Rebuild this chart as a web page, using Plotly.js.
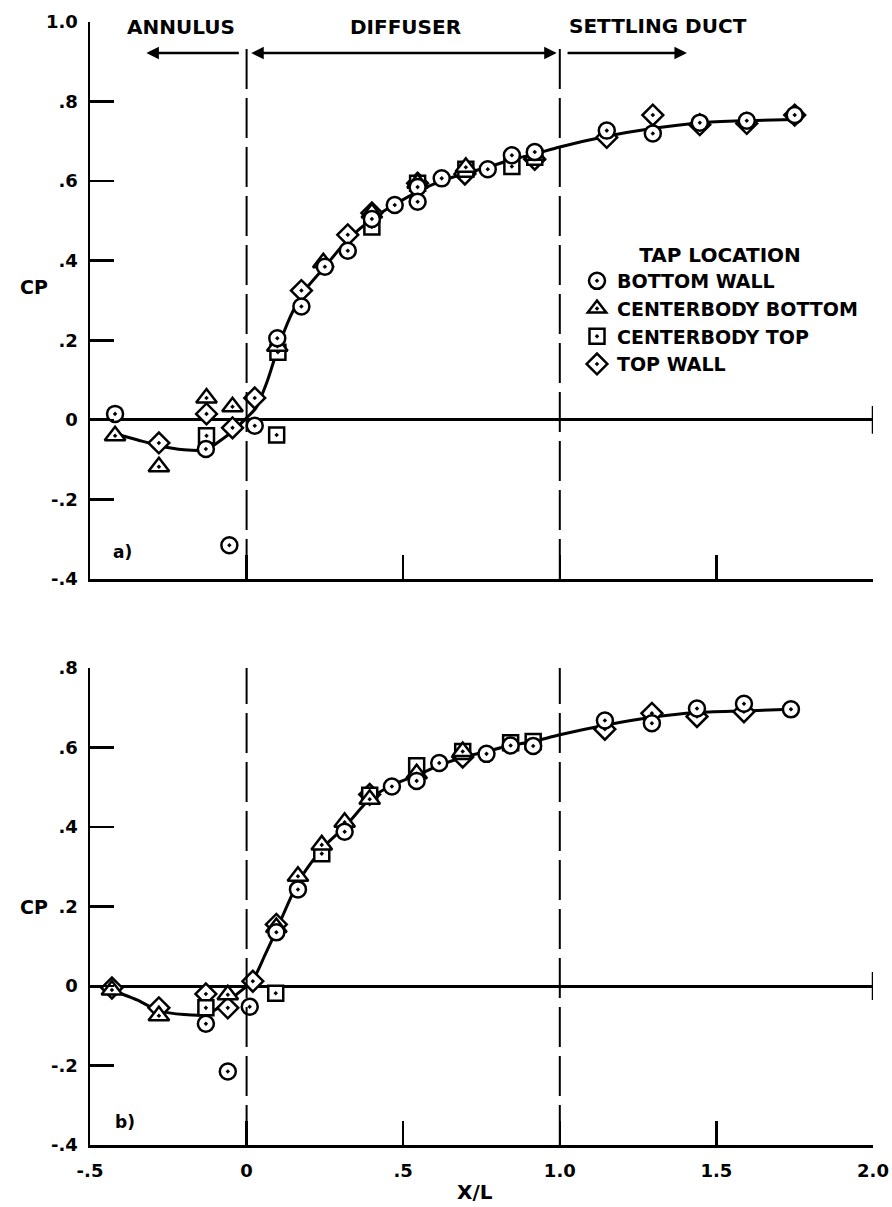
<!DOCTYPE html>
<html>
<head>
<meta charset="utf-8">
<script src="https://cdn.plot.ly/plotly-3.0.1.min.js"></script>
<style>html,body{margin:0;padding:0;background:#fff;}#chart{width:892px;height:1207px;}</style>
</head>
<body>
<div id="chart"></div>
<script>
// ---------- DATA ----------
// Panel a)
const aCurveX = [-0.42,-0.35,-0.28,-0.2,-0.13,-0.08,-0.04,0,0.03,0.065,0.1,0.14,0.18,0.25,0.32,0.4,0.47,0.55,0.62,0.7,0.77,0.85,0.92,1.0,1.15,1.3,1.45,1.6,1.75];
const aCurveY = [-0.035,-0.05,-0.065,-0.075,-0.075,-0.05,-0.025,0.005,0.03,0.095,0.18,0.26,0.32,0.385,0.45,0.505,0.54,0.575,0.6,0.62,0.635,0.655,0.668,0.686,0.713,0.733,0.747,0.752,0.755];

const aBottomWallX = [-0.42,-0.13,-0.055,0.026,0.098,0.175,0.25,0.323,0.40,0.473,0.546,0.546,0.623,0.77,0.847,0.92,1.15,1.297,1.447,1.597,1.75];
const aBottomWallY = [0.015,-0.073,-0.315,-0.015,0.205,0.285,0.385,0.425,0.505,0.54,0.585,0.548,0.607,0.63,0.665,0.673,0.727,0.72,0.747,0.752,0.766];

const aCbBottomX = [-0.42,-0.28,-0.128,-0.045,0.098,0.245,0.40,0.546,0.70,0.92];
const aCbBottomY = [-0.04,-0.118,0.055,0.033,0.185,0.395,0.52,0.595,0.635,0.665];

const aCbTopX = [-0.128,0.096,0.1,0.40,0.546,0.70,0.847,0.92];
const aCbTopY = [-0.04,-0.038,0.17,0.485,0.595,0.63,0.637,0.66];

const aTopWallX = [-0.28,-0.128,-0.045,0.026,0.175,0.323,0.40,0.546,0.697,0.92,1.15,1.297,1.447,1.597,1.75];
const aTopWallY = [-0.058,0.015,-0.02,0.055,0.325,0.465,0.52,0.595,0.618,0.655,0.71,0.766,0.742,0.745,0.766];

// Panel b)
const bCurveX = [-0.43,-0.35,-0.28,-0.2,-0.13,-0.08,-0.03,0.02,0.06,0.095,0.164,0.24,0.313,0.393,0.464,0.543,0.615,0.69,0.766,0.843,0.915,1.0,1.144,1.294,1.438,1.588,1.738];
const bCurveY = [-0.01,-0.035,-0.062,-0.072,-0.072,-0.05,-0.02,0.015,0.08,0.14,0.26,0.345,0.4,0.47,0.505,0.53,0.555,0.575,0.59,0.605,0.615,0.632,0.656,0.676,0.688,0.692,0.696];

const bBottomWallX = [-0.13,-0.06,0.01,0.095,0.164,0.313,0.464,0.543,0.615,0.766,0.843,0.915,1.144,1.294,1.438,1.588,1.738];
const bBottomWallY = [-0.095,-0.215,-0.052,0.135,0.243,0.388,0.502,0.516,0.561,0.584,0.605,0.604,0.668,0.661,0.698,0.71,0.696];

const bCbBottomX = [-0.43,-0.28,-0.06,0.095,0.164,0.24,0.313,0.393,0.543,0.69];
const bCbBottomY = [-0.01,-0.075,-0.022,0.147,0.276,0.355,0.412,0.47,0.534,0.59];

const bCbTopX = [-0.13,0.093,0.24,0.393,0.543,0.69,0.843,0.915];
const bCbTopY = [-0.055,-0.018,0.333,0.48,0.554,0.59,0.612,0.615];

const bTopWallX = [-0.43,-0.28,-0.13,-0.06,0.02,0.095,0.393,0.69,1.144,1.294,1.438,1.588];
const bTopWallY = [-0.005,-0.055,-0.02,-0.055,0.012,0.155,0.482,0.576,0.646,0.686,0.678,0.69];

// Labels / ticks
const seriesNames = ['BOTTOM WALL','CENTERBODY BOTTOM','CENTERBODY TOP','TOP WALL'];
const seriesSymbols = ['circle-dot','triangle-up-dot','square-dot','diamond-dot'];
const xTickVals = [-0.5,0,0.5,1.0,1.5,2.0];
const xTickText = ['-.5','0','.5','1.0','1.5','2.0'];
const yTickValsA = [-0.4,-0.2,0,0.2,0.4,0.6,0.8,1.0];
const yTickTextA = ['-.4','-.2','0','.2','.4','.6','.8','1.0'];
const yTickValsB = [-0.4,-0.2,0,0.2,0.4,0.6,0.8];
const yTickTextB = ['-.4','-.2','0','.2','.4','.6','.8'];
const regionBounds = [0, 1.0];           // annulus/diffuser and diffuser/settling-duct boundaries (X/L)
const regionNames = ['ANNULUS','DIFFUSER','SETTLING DUCT'];
const xMin = -0.5, xMax = 2.0;

// ---------- LAYOUT HELPERS ----------
const W = 892, H = 1207;
const px = v => v / W;
const py = v => 1 - v / H;
const FAM = 'DejaVu Sans';
const txtFont = {family: FAM, size: 20, color: '#000', weight: 'bold'};
const legFont = {family: FAM, size: 19, color: '#000', weight: 'bold'};
const legTitleFont = {family: FAM, size: 20, color: '#000', weight: 'bold'};
const tickFont = {family: FAM, size: 18, color: '#000', weight: 'bold'};
const markerSizes = [16, 18, 15, 16];

const aSets = [[aBottomWallX,aBottomWallY],[aCbBottomX,aCbBottomY],[aCbTopX,aCbTopY],[aTopWallX,aTopWallY]];
const bSets = [[bBottomWallX,bBottomWallY],[bCbBottomX,bCbBottomY],[bCbTopX,bCbTopY],[bTopWallX,bTopWallY]];

const traces = [];
traces.push({x: aCurveX, y: aCurveY, xaxis: 'x', yaxis: 'y', mode: 'lines', showlegend: false, hoverinfo: 'skip',
  line: {color: '#000', width: 3, shape: 'spline', smoothing: 0.7}});
traces.push({x: bCurveX, y: bCurveY, xaxis: 'x2', yaxis: 'y2', mode: 'lines', showlegend: false, hoverinfo: 'skip',
  line: {color: '#000', width: 3, shape: 'spline', smoothing: 0.7}});
const order = [3, 2, 1, 0];
order.forEach(i => {
  traces.push({x: aSets[i][0], y: aSets[i][1], xaxis: 'x', yaxis: 'y', mode: 'markers', name: seriesNames[i],
    legendgroup: 'g' + i, legendrank: i + 1, showlegend: true,
    marker: {symbol: seriesSymbols[i], size: markerSizes[i], color: '#fff', line: {color: '#000', width: 2.5}}});
  traces.push({x: bSets[i][0], y: bSets[i][1], xaxis: 'x2', yaxis: 'y2', mode: 'markers', name: seriesNames[i],
    legendgroup: 'g' + i, showlegend: false,
    marker: {symbol: seriesSymbols[i], size: markerSizes[i], color: '#fff', line: {color: '#000', width: 2.5}}});
});

const xDomain = [px(90), px(873)];
const axisCommon = {
  showgrid: false, showline: true, linecolor: '#000', linewidth: 2.5, mirror: false,
  ticks: 'inside', ticklen: 24, tickwidth: 2.5, tickcolor: '#000', tickfont: tickFont, fixedrange: true
};
const layout = {
  width: W, height: H,
  margin: {l: 0, r: 0, t: 0, b: 0, pad: 0},
  paper_bgcolor: '#fff', plot_bgcolor: 'rgba(0,0,0,0)',
  showlegend: true,
  legend: {x: px(577), y: py(236), xanchor: 'left', yanchor: 'top', bgcolor: 'rgba(0,0,0,0)',
    font: legFont, tracegroupgap: 0, itemwidth: 30, traceorder: 'normal',
    title: {text: 'TAP LOCATION', side: 'top center', font: legTitleFont}},
  xaxis: Object.assign({}, axisCommon, {domain: xDomain, range: [xMin, xMax], anchor: 'y',
    tickvals: xTickVals, showticklabels: false, zeroline: false}),
  yaxis: Object.assign({}, axisCommon, {domain: [py(579), py(22)], range: [-0.4, 1.0], anchor: 'x',
    tickvals: yTickValsA, ticktext: yTickTextA, ticklabelstandoff: 6,
    zeroline: true, zerolinecolor: '#000', zerolinewidth: 3}),
  xaxis2: Object.assign({}, axisCommon, {domain: xDomain, range: [xMin, xMax], anchor: 'y2',
    tickvals: xTickVals, ticktext: xTickText, ticklabelstandoff: 8, zeroline: false}),
  yaxis2: Object.assign({}, axisCommon, {domain: [py(1145), py(668)], range: [-0.4, 0.8], anchor: 'x2',
    tickvals: yTickValsB, ticktext: yTickTextB, ticklabelstandoff: 6,
    zeroline: true, zerolinecolor: '#000', zerolinewidth: 3}),
  shapes: [],
  annotations: []
};

// region boundary dashed lines
const dash = '40px,9px';
regionBounds.forEach(b => {
  layout.shapes.push({type: 'line', xref: 'x', yref: 'y', x0: b, x1: b, y0: -0.4, y1: 0.95,
    line: {color: '#000', width: 2, dash: dash}});
  layout.shapes.push({type: 'line', xref: 'x2', yref: 'y2', x0: b, x1: b, y0: -0.4, y1: 0.8,
    line: {color: '#000', width: 2, dash: dash}});
});
// end tick on the zero line at the right edge
[['x','y'],['x2','y2']].forEach(r => {
  layout.shapes.push({type: 'line', xref: r[0], yref: r[1], x0: xMax, x1: xMax, y0: -0.035, y1: 0.035,
    line: {color: '#000', width: 2.5}});
});

const ann = layout.annotations;
function label(text, x, y, font) {
  ann.push({text: text, xref: 'paper', yref: 'paper', x: px(x), y: py(y), xanchor: 'center', yanchor: 'middle',
    showarrow: false, font: font || txtFont});
}
// region titles
label(regionNames[0], 181, 27);
label(regionNames[1], 405, 27);
label(regionNames[2], 658, 26);
// region arrows
const arrowY = 0.922;
const arrowBase = {xref: 'x', yref: 'y', axref: 'x', ayref: 'y', text: '', showarrow: true,
  arrowhead: 2, arrowsize: 1, arrowwidth: 2.5, arrowcolor: '#000', standoff: 0, startstandoff: 0};
ann.push(Object.assign({}, arrowBase, {x: -0.32, y: arrowY, ax: regionBounds[0] - 0.02, ay: arrowY}));
ann.push(Object.assign({}, arrowBase, {x: regionBounds[1] - 0.01, y: arrowY, ax: regionBounds[0] + 0.01, ay: arrowY,
  arrowside: 'end+start', startarrowhead: 2, startarrowsize: 1}));
ann.push(Object.assign({}, arrowBase, {x: 1.406, y: arrowY, ax: regionBounds[1] + 0.02, ay: arrowY}));

// axis titles and panel labels
const cpFont = {family: FAM, size: 19, color: '#000', weight: 'bold'};
label('CP', 34, 287, cpFont);
label('CP', 34, 907, cpFont);
const smallFont = {family: FAM, size: 17, color: '#000', weight: 'bold'};
label('a)', 122, 552, smallFont);
label('b)', 125, 1122, smallFont);
label('X/L', 475, 1192);

Plotly.newPlot('chart', traces, layout, {displayModeBar: false, staticPlot: true});
</script>
</body>
</html>
